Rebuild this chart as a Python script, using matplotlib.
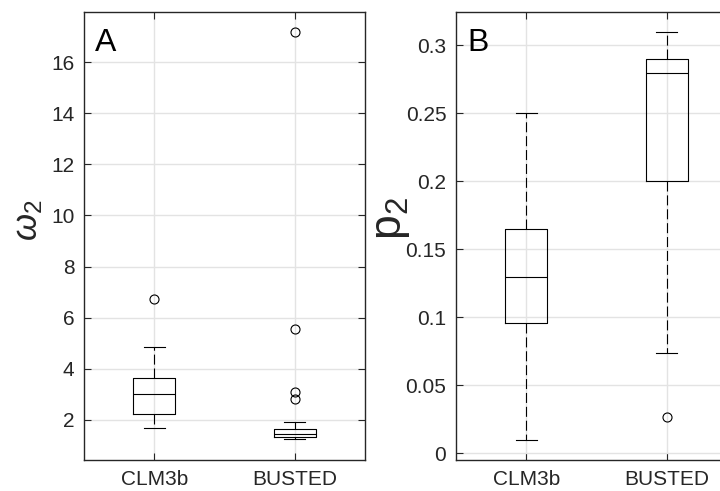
import matplotlib
matplotlib.use('Agg')
import matplotlib.pyplot as plt

plt.rcParams['font.family'] = ['Liberation Sans', 'DejaVu Sans']
plt.rcParams['mathtext.fontset'] = 'custom'
plt.rcParams['mathtext.rm'] = 'Liberation Sans'
plt.rcParams['mathtext.it'] = 'Liberation Sans:italic'

groups = ['CLM3b', 'BUSTED']

# panel A: omega_2
omega_q1 = [2.24, 1.32]
omega_med = [3.0, 1.45]
omega_q3 = [3.65, 1.65]
omega_lo = [1.67, 1.24]
omega_hi = [4.85, 1.93]
omega_out = [[6.74], [17.18, 5.57, 3.11, 2.81]]

# panel B: p_2
p_q1 = [0.096, 0.20]
p_med = [0.130, 0.28]
p_q3 = [0.165, 0.29]
p_lo = [0.010, 0.074]
p_hi = [0.25, 0.31]
p_out = [[], [0.0265]]


def make_stats(q1, med, q3, lo, hi, out):
    stats = []
    for i, name in enumerate(groups):
        stats.append(dict(label=name, q1=q1[i], med=med[i], q3=q3[i],
                          whislo=lo[i], whishi=hi[i], fliers=out[i]))
    return stats


def draw_panel(ax, stats, ylim, yticks, yticklabels, letter):
    ax.set_axisbelow(True)
    ax.grid(True, color='#e3e3e3', linewidth=1.0)
    ax.bxp(stats, positions=[1, 2], widths=0.3, patch_artist=False,
           boxprops=dict(color='black', linewidth=0.8),
           medianprops=dict(color='black', linewidth=0.8),
           whiskerprops=dict(color='black', linewidth=0.8, linestyle=(0, (9, 3.5))),
           capprops=dict(color='black', linewidth=0.8),
           capwidths=0.15,
           flierprops=dict(marker='o', markersize=6.5, markerfacecolor='none',
                           markeredgecolor='black', markeredgewidth=0.8))
    ax.set_xlim(0.5, 2.5)
    ax.set_ylim(*ylim)
    ax.set_yticks(yticks)
    ax.set_yticklabels(yticklabels)
    ax.set_xticks([1, 2])
    ax.set_xticklabels(groups)
    ax.tick_params(direction='in', length=5, width=0.8, colors='#262626',
                   labelsize=15, top=True, right=True, pad=7)
    ax.tick_params(axis='y', pad=7)
    for s in ax.spines.values():
        s.set_color('#262626')
        s.set_linewidth(1.0)
    ax.text(0.04, 0.965, letter, transform=ax.transAxes, fontsize=23,
            va='top', ha='left', color='black')


fig = plt.figure(figsize=(7.2, 4.91), dpi=100)
W, H = 720, 491
ax1 = fig.add_axes([84 / W, (H - 460) / H, 281 / W, 448 / H])
ax2 = fig.add_axes([456 / W, (H - 460) / H, 281 / W, 448 / H])

draw_panel(ax1, make_stats(omega_q1, omega_med, omega_q3, omega_lo, omega_hi, omega_out),
           (0.43, 17.96), [2, 4, 6, 8, 10, 12, 14, 16],
           ['2', '4', '6', '8', '10', '12', '14', '16'], 'A')
draw_panel(ax2, make_stats(p_q1, p_med, p_q3, p_lo, p_hi, p_out),
           (-0.0049, 0.3245), [0, 0.05, 0.1, 0.15, 0.2, 0.25, 0.3],
           ['0', '0.05', '0.1', '0.15', '0.2', '0.25', '0.3'], 'B')

ax1.set_ylabel(r'$\omega_2$', fontsize=25, color='#262626')
ax1.yaxis.set_label_coords(-0.14, 0.535)
ax2.set_ylabel(r'$\mathrm{p}_2$', fontsize=32, color='#262626')
ax2.yaxis.set_label_coords(-0.155, 0.54)

fig.savefig('out.png', dpi=100)
